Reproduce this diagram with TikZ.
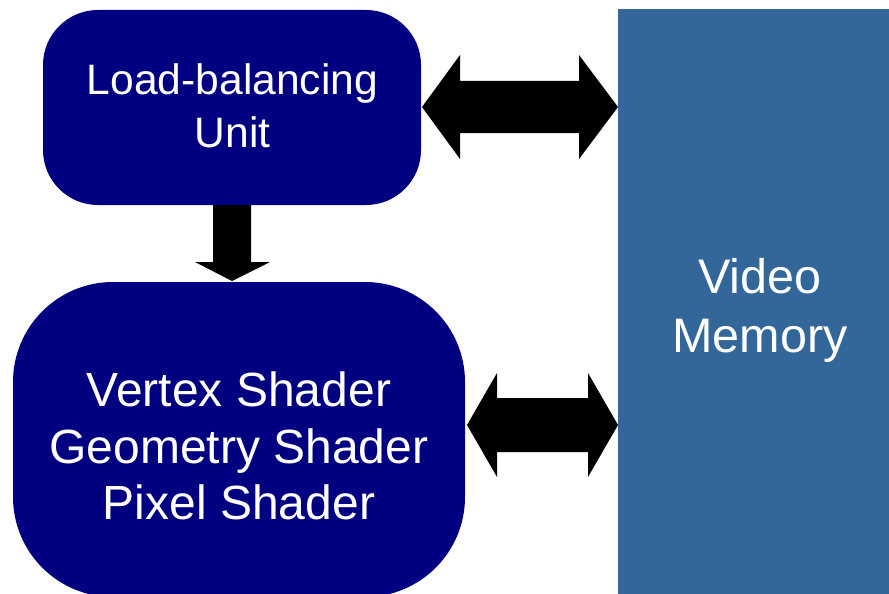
\documentclass[tikz,border=0pt]{standalone}
\usepackage{fontspec}
\setmainfont{Liberation Sans}
\definecolor{boxnavy}{HTML}{000080}
\definecolor{memblue}{HTML}{336699}
\begin{document}
\begin{tikzpicture}[x=1pt,y=-1pt,
  boxtext/.style={text=white,align=center,inner sep=0pt},
  fatarrow/.style={fill=black,draw=none}]
\useasboundingbox (0,0) rectangle (889,594);
% boxes
\fill[boxnavy,rounded corners=55pt] (43,10) rectangle (421,205);
\fill[boxnavy,rounded corners=100pt] (13,282) rectangle (465,597);
\fill[memblue] (618,9) rectangle (889,594);
% texts
\node[boxtext,font=\fontsize{42.6}{52.5}\selectfont] (lbu) at (232.5,106) {Load-balancing\\Unit};
\node[boxtext,font=\fontsize{48}{56.5}\selectfont] (shd) at (239,446) {Vertex Shader\\Geometry Shader\\Pixel Shader};
\node[boxtext,font=\fontsize{48.5}{59}\selectfont] (vm) at (760,310) {Video\\Memory};
% arrows
\coordinate (a1l) at (422,107);
\coordinate (a1r) at (618,107);
\fill[fatarrow] (a1l) -- (460,55) -- (460,81) -- (579,81) -- (579,55) -- (a1r)
  -- (579,159) -- (579,133) -- (460,133) -- (460,159) -- cycle;
\coordinate (a2l) at (467,425);
\coordinate (a2r) at (618,425);
\fill[fatarrow] (a2l) -- (497,373) -- (497,398) -- (588,398) -- (588,373) -- (a2r)
  -- (588,477) -- (588,452) -- (497,452) -- (497,477) -- cycle;
\coordinate (dtop) at (232,205);
\coordinate (dtip) at (232,281);
\fill[fatarrow] (213,205) -- (251,205) -- (251,262) -- (270,262) -- (dtip)
  -- (195,262) -- (213,262) -- cycle;
\end{tikzpicture}
\end{document}
